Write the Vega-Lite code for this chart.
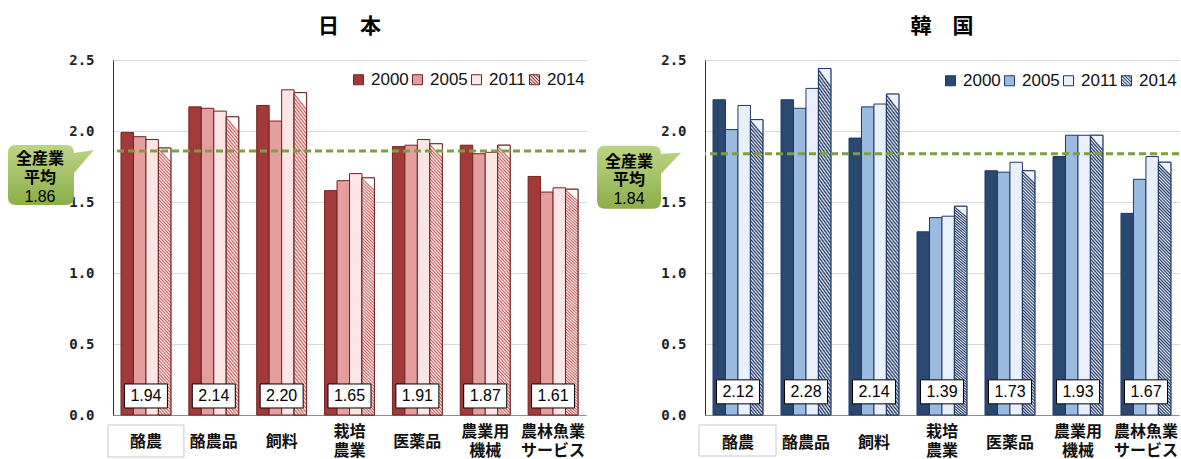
{
  "$schema": "https://vega.github.io/schema/vega-lite/v6.json",
  "background": "white",
  "padding": {"left": 7, "top": 16, "right": 2, "bottom": 0},
  "spacing": 9,
  "align": "none",
  "datasets": {
    "bars": [
      {"country": "日本", "category": "酪農", "year": "2000", "value": 1.99},
      {"country": "日本", "category": "酪農", "year": "2005", "value": 1.96},
      {"country": "日本", "category": "酪農", "year": "2011", "value": 1.94},
      {"country": "日本", "category": "酪農", "year": "2014", "value": 1.88},
      {"country": "日本", "category": "酪農品", "year": "2000", "value": 2.17},
      {"country": "日本", "category": "酪農品", "year": "2005", "value": 2.16},
      {"country": "日本", "category": "酪農品", "year": "2011", "value": 2.14},
      {"country": "日本", "category": "酪農品", "year": "2014", "value": 2.10},
      {"country": "日本", "category": "飼料", "year": "2000", "value": 2.18},
      {"country": "日本", "category": "飼料", "year": "2005", "value": 2.07},
      {"country": "日本", "category": "飼料", "year": "2011", "value": 2.29},
      {"country": "日本", "category": "飼料", "year": "2014", "value": 2.27},
      {"country": "日本", "category": "栽培\n農業", "year": "2000", "value": 1.58},
      {"country": "日本", "category": "栽培\n農業", "year": "2005", "value": 1.65},
      {"country": "日本", "category": "栽培\n農業", "year": "2011", "value": 1.70},
      {"country": "日本", "category": "栽培\n農業", "year": "2014", "value": 1.67},
      {"country": "日本", "category": "医薬品", "year": "2000", "value": 1.89},
      {"country": "日本", "category": "医薬品", "year": "2005", "value": 1.90},
      {"country": "日本", "category": "医薬品", "year": "2011", "value": 1.94},
      {"country": "日本", "category": "医薬品", "year": "2014", "value": 1.91},
      {"country": "日本", "category": "農業用\n機械", "year": "2000", "value": 1.90},
      {"country": "日本", "category": "農業用\n機械", "year": "2005", "value": 1.84},
      {"country": "日本", "category": "農業用\n機械", "year": "2011", "value": 1.85},
      {"country": "日本", "category": "農業用\n機械", "year": "2014", "value": 1.90},
      {"country": "日本", "category": "農林魚業\nサービス", "year": "2000", "value": 1.68},
      {"country": "日本", "category": "農林魚業\nサービス", "year": "2005", "value": 1.57},
      {"country": "日本", "category": "農林魚業\nサービス", "year": "2011", "value": 1.60},
      {"country": "日本", "category": "農林魚業\nサービス", "year": "2014", "value": 1.59},
      {"country": "韓国", "category": "酪農", "year": "2000", "value": 2.22},
      {"country": "韓国", "category": "酪農", "year": "2005", "value": 2.01},
      {"country": "韓国", "category": "酪農", "year": "2011", "value": 2.18},
      {"country": "韓国", "category": "酪農", "year": "2014", "value": 2.08},
      {"country": "韓国", "category": "酪農品", "year": "2000", "value": 2.22},
      {"country": "韓国", "category": "酪農品", "year": "2005", "value": 2.16},
      {"country": "韓国", "category": "酪農品", "year": "2011", "value": 2.30},
      {"country": "韓国", "category": "酪農品", "year": "2014", "value": 2.44},
      {"country": "韓国", "category": "飼料", "year": "2000", "value": 1.95},
      {"country": "韓国", "category": "飼料", "year": "2005", "value": 2.17},
      {"country": "韓国", "category": "飼料", "year": "2011", "value": 2.19},
      {"country": "韓国", "category": "飼料", "year": "2014", "value": 2.26},
      {"country": "韓国", "category": "栽培\n農業", "year": "2000", "value": 1.29},
      {"country": "韓国", "category": "栽培\n農業", "year": "2005", "value": 1.39},
      {"country": "韓国", "category": "栽培\n農業", "year": "2011", "value": 1.40},
      {"country": "韓国", "category": "栽培\n農業", "year": "2014", "value": 1.47},
      {"country": "韓国", "category": "医薬品", "year": "2000", "value": 1.72},
      {"country": "韓国", "category": "医薬品", "year": "2005", "value": 1.71},
      {"country": "韓国", "category": "医薬品", "year": "2011", "value": 1.78},
      {"country": "韓国", "category": "医薬品", "year": "2014", "value": 1.72},
      {"country": "韓国", "category": "農業用\n機械", "year": "2000", "value": 1.82},
      {"country": "韓国", "category": "農業用\n機械", "year": "2005", "value": 1.97},
      {"country": "韓国", "category": "農業用\n機械", "year": "2011", "value": 1.97},
      {"country": "韓国", "category": "農業用\n機械", "year": "2014", "value": 1.97},
      {"country": "韓国", "category": "農林魚業\nサービス", "year": "2000", "value": 1.42},
      {"country": "韓国", "category": "農林魚業\nサービス", "year": "2005", "value": 1.66},
      {"country": "韓国", "category": "農林魚業\nサービス", "year": "2011", "value": 1.82},
      {"country": "韓国", "category": "農林魚業\nサービス", "year": "2014", "value": 1.78}
    ],
    "labels": [
      {"country": "日本", "category": "酪農", "avg": 1.94},
      {"country": "日本", "category": "酪農品", "avg": 2.14},
      {"country": "日本", "category": "飼料", "avg": 2.20},
      {"country": "日本", "category": "栽培\n農業", "avg": 1.65},
      {"country": "日本", "category": "医薬品", "avg": 1.91},
      {"country": "日本", "category": "農業用\n機械", "avg": 1.87},
      {"country": "日本", "category": "農林魚業\nサービス", "avg": 1.61},
      {"country": "韓国", "category": "酪農", "avg": 2.12},
      {"country": "韓国", "category": "酪農品", "avg": 2.28},
      {"country": "韓国", "category": "飼料", "avg": 2.14},
      {"country": "韓国", "category": "栽培\n農業", "avg": 1.39},
      {"country": "韓国", "category": "医薬品", "avg": 1.73},
      {"country": "韓国", "category": "農業用\n機械", "avg": 1.93},
      {"country": "韓国", "category": "農林魚業\nサービス", "avg": 1.67}
    ],
    "average": [
      {"country": "日本", "avg": 1.86},
      {"country": "韓国", "avg": 1.84}
    ]
  },
  "hconcat": [
    {
      "width": 473,
      "height": 355,
      "title": {"text": "日　本", "font": "Noto Sans CJK JP", "fontSize": 21, "fontWeight": "bold", "color": "#000", "offset": 16, "anchor": "middle"},
      "layer": [
        {
          "data": {"name": "bars"},
          "transform": [{"filter": "datum.country === '日本'"}],
          "mark": {"type": "bar", "stroke": "#6e2424", "strokeWidth": 1},
          "encoding": {
            "x": {"field": "category", "type": "nominal",
              "scale": {"domain": ["酪農", "酪農品", "飼料", "栽培\n農業", "医薬品", "農業用\n機械", "農林魚業\nサービス"], "paddingInner": 0.265, "paddingOuter": 0.118},
              "axis": {"title": null, "ticks": false, "domainColor": "#8c8c8c", "labelAngle": 0, "labelFont": "Noto Sans CJK JP", "labelFontSize": 16, "labelFontWeight": "bold", "labelColor": "#111", "labelLineHeight": 19, "labelBaseline": "middle", "labelOverlap": false, "labelExpr": "split(datum.label, '\\n')",
                "labelPadding": {"condition": {"test": "indexof(datum.label, '\\n') >= 0", "value": 16}, "value": 26}}},
            "xOffset": {"field": "year", "type": "nominal", "scale": {"domain": ["2000", "2005", "2011", "2014"], "paddingInner": 0}},
            "y": {"field": "value", "type": "quantitative",
              "scale": {"domain": [0, 2.5], "nice": false},
              "axis": {"title": null, "values": [0, 0.5, 1, 1.5, 2, 2.5], "format": ".1f", "grid": true, "gridColor": "#d9d9d9", "ticks": false, "domainColor": "#333", "labelFont": "DejaVu Sans Mono", "labelFontSize": 14, "labelFontWeight": "bold", "labelColor": "#222", "labelPadding": 19}},
            "color": {"field": "year", "type": "nominal",
              "scale": {"domain": ["2000", "2005", "2011", "2014"], "range": ["#a33a3a", "#e59e9e", "#fde5e5", "#f3cccc"]},
              "legend": {"orient": "none", "legendX": 237, "legendY": 11, "direction": "horizontal", "title": null, "symbolType": "square", "symbolSize": 100, "symbolStrokeColor": "#6e2424", "symbolStrokeWidth": 1, "labelFont": "Liberation Sans", "labelFontSize": 17, "labelColor": "#111", "labelOffset": 4, "columnPadding": 0,
                "encode": {"symbols": {"update": {"shape": {"signal": "datum.value === '2014' ? 'M-1,-1H1V1H-1Z M-1,-0.33L0.33,1 M-1,0.33L-0.33,1 M-1,-1L1,1 M-0.33,-1L1,0.33 M0.33,-1L1,-0.33' : 'square'"}, "stroke": {"value": "#6e2424"}, "strokeWidth": {"value": 1}}}}}}
          }
        },
        {
          "data": {"name": "bars"},
          "transform": [{"filter": "datum.country === '日本' && datum.year === '2014'"}],
          "mark": {"type": "bar", "stroke": "#6e2424", "strokeWidth": 1,
            "fill": {"gradient": "linear", "x1": 0.05, "y1": 0, "x2": 0, "y2": 1, "stops": [
              {"offset":0,"color":"#fff"},{"offset":0.00625,"color":"#c55"},{"offset":0.0125,"color":"#fff"},{"offset":0.01875,"color":"#c55"},{"offset":0.025,"color":"#fff"},{"offset":0.03125,"color":"#c55"},{"offset":0.0375,"color":"#fff"},{"offset":0.04375,"color":"#c55"},
              {"offset":0.05,"color":"#fff"},{"offset":0.05625,"color":"#c55"},{"offset":0.0625,"color":"#fff"},{"offset":0.06875,"color":"#c55"},{"offset":0.075,"color":"#fff"},{"offset":0.08125,"color":"#c55"},{"offset":0.0875,"color":"#fff"},{"offset":0.09375,"color":"#c55"},
              {"offset":0.1,"color":"#fff"},{"offset":0.10625,"color":"#c55"},{"offset":0.1125,"color":"#fff"},{"offset":0.11875,"color":"#c55"},{"offset":0.125,"color":"#fff"},{"offset":0.13125,"color":"#c55"},{"offset":0.1375,"color":"#fff"},{"offset":0.14375,"color":"#c55"},
              {"offset":0.15,"color":"#fff"},{"offset":0.15625,"color":"#c55"},{"offset":0.1625,"color":"#fff"},{"offset":0.16875,"color":"#c55"},{"offset":0.175,"color":"#fff"},{"offset":0.18125,"color":"#c55"},{"offset":0.1875,"color":"#fff"},{"offset":0.19375,"color":"#c55"},
              {"offset":0.2,"color":"#fff"},{"offset":0.20625,"color":"#c55"},{"offset":0.2125,"color":"#fff"},{"offset":0.21875,"color":"#c55"},{"offset":0.225,"color":"#fff"},{"offset":0.23125,"color":"#c55"},{"offset":0.2375,"color":"#fff"},{"offset":0.24375,"color":"#c55"},
              {"offset":0.25,"color":"#fff"},{"offset":0.25625,"color":"#c55"},{"offset":0.2625,"color":"#fff"},{"offset":0.26875,"color":"#c55"},{"offset":0.275,"color":"#fff"},{"offset":0.28125,"color":"#c55"},{"offset":0.2875,"color":"#fff"},{"offset":0.29375,"color":"#c55"},
              {"offset":0.3,"color":"#fff"},{"offset":0.30625,"color":"#c55"},{"offset":0.3125,"color":"#fff"},{"offset":0.31875,"color":"#c55"},{"offset":0.325,"color":"#fff"},{"offset":0.33125,"color":"#c55"},{"offset":0.3375,"color":"#fff"},{"offset":0.34375,"color":"#c55"},
              {"offset":0.35,"color":"#fff"},{"offset":0.35625,"color":"#c55"},{"offset":0.3625,"color":"#fff"},{"offset":0.36875,"color":"#c55"},{"offset":0.375,"color":"#fff"},{"offset":0.38125,"color":"#c55"},{"offset":0.3875,"color":"#fff"},{"offset":0.39375,"color":"#c55"},
              {"offset":0.4,"color":"#fff"},{"offset":0.40625,"color":"#c55"},{"offset":0.4125,"color":"#fff"},{"offset":0.41875,"color":"#c55"},{"offset":0.425,"color":"#fff"},{"offset":0.43125,"color":"#c55"},{"offset":0.4375,"color":"#fff"},{"offset":0.44375,"color":"#c55"},
              {"offset":0.45,"color":"#fff"},{"offset":0.45625,"color":"#c55"},{"offset":0.4625,"color":"#fff"},{"offset":0.46875,"color":"#c55"},{"offset":0.475,"color":"#fff"},{"offset":0.48125,"color":"#c55"},{"offset":0.4875,"color":"#fff"},{"offset":0.49375,"color":"#c55"},
              {"offset":0.5,"color":"#fff"},{"offset":0.50625,"color":"#c55"},{"offset":0.5125,"color":"#fff"},{"offset":0.51875,"color":"#c55"},{"offset":0.525,"color":"#fff"},{"offset":0.53125,"color":"#c55"},{"offset":0.5375,"color":"#fff"},{"offset":0.54375,"color":"#c55"},
              {"offset":0.55,"color":"#fff"},{"offset":0.55625,"color":"#c55"},{"offset":0.5625,"color":"#fff"},{"offset":0.56875,"color":"#c55"},{"offset":0.575,"color":"#fff"},{"offset":0.58125,"color":"#c55"},{"offset":0.5875,"color":"#fff"},{"offset":0.59375,"color":"#c55"},
              {"offset":0.6,"color":"#fff"},{"offset":0.60625,"color":"#c55"},{"offset":0.6125,"color":"#fff"},{"offset":0.61875,"color":"#c55"},{"offset":0.625,"color":"#fff"},{"offset":0.63125,"color":"#c55"},{"offset":0.6375,"color":"#fff"},{"offset":0.64375,"color":"#c55"},
              {"offset":0.65,"color":"#fff"},{"offset":0.65625,"color":"#c55"},{"offset":0.6625,"color":"#fff"},{"offset":0.66875,"color":"#c55"},{"offset":0.675,"color":"#fff"},{"offset":0.68125,"color":"#c55"},{"offset":0.6875,"color":"#fff"},{"offset":0.69375,"color":"#c55"},
              {"offset":0.7,"color":"#fff"},{"offset":0.70625,"color":"#c55"},{"offset":0.7125,"color":"#fff"},{"offset":0.71875,"color":"#c55"},{"offset":0.725,"color":"#fff"},{"offset":0.73125,"color":"#c55"},{"offset":0.7375,"color":"#fff"},{"offset":0.74375,"color":"#c55"},
              {"offset":0.75,"color":"#fff"},{"offset":0.75625,"color":"#c55"},{"offset":0.7625,"color":"#fff"},{"offset":0.76875,"color":"#c55"},{"offset":0.775,"color":"#fff"},{"offset":0.78125,"color":"#c55"},{"offset":0.7875,"color":"#fff"},{"offset":0.79375,"color":"#c55"},
              {"offset":0.8,"color":"#fff"},{"offset":0.80625,"color":"#c55"},{"offset":0.8125,"color":"#fff"},{"offset":0.81875,"color":"#c55"},{"offset":0.825,"color":"#fff"},{"offset":0.83125,"color":"#c55"},{"offset":0.8375,"color":"#fff"},{"offset":0.84375,"color":"#c55"},
              {"offset":0.85,"color":"#fff"},{"offset":0.85625,"color":"#c55"},{"offset":0.8625,"color":"#fff"},{"offset":0.86875,"color":"#c55"},{"offset":0.875,"color":"#fff"},{"offset":0.88125,"color":"#c55"},{"offset":0.8875,"color":"#fff"},{"offset":0.89375,"color":"#c55"},
              {"offset":0.9,"color":"#fff"},{"offset":0.90625,"color":"#c55"},{"offset":0.9125,"color":"#fff"},{"offset":0.91875,"color":"#c55"},{"offset":0.925,"color":"#fff"},{"offset":0.93125,"color":"#c55"},{"offset":0.9375,"color":"#fff"},{"offset":0.94375,"color":"#c55"},
              {"offset":0.95,"color":"#fff"},{"offset":0.95625,"color":"#c55"},{"offset":0.9625,"color":"#fff"},{"offset":0.96875,"color":"#c55"},{"offset":0.975,"color":"#fff"},{"offset":0.98125,"color":"#c55"},{"offset":0.9875,"color":"#fff"},{"offset":0.99375,"color":"#c55"},
              {"offset":1,"color":"#fff"}
            ]}},
          "encoding": {
            "x": {"field": "category", "type": "nominal"},
            "xOffset": {"field": "year", "type": "nominal"},
            "y": {"field": "value", "type": "quantitative"}
          }
        },
        {
          "data": {"name": "average"},
          "transform": [{"filter": "datum.country === '日本'"}],
          "mark": {"type": "rule", "color": "#7f9f3c", "strokeWidth": 3, "strokeDash": [7, 4]},
          "encoding": {"y": {"field": "avg", "type": "quantitative"}}
        },
        {
          "data": {"name": "labels"},
          "transform": [{"filter": "datum.country === '日本'"}],
          "mark": {"type": "point", "shape": "M-21.5,-12H21.5V12H-21.5Z", "size": 4, "filled": true, "fill": "#ffffff", "stroke": "#000000", "strokeWidth": 1, "opacity": 1},
          "encoding": {
            "x": {"field": "category", "type": "nominal"},
            "y": {"datum": 0.134, "type": "quantitative"}
          }
        },
        {
          "data": {"name": "labels"},
          "transform": [{"filter": "datum.country === '日本'"}],
          "mark": {"type": "text", "font": "Liberation Sans", "fontSize": 16, "color": "#000", "baseline": "middle", "align": "center"},
          "encoding": {
            "x": {"field": "category", "type": "nominal"},
            "y": {"datum": 0.134, "type": "quantitative"},
            "text": {"field": "avg", "type": "quantitative", "format": ".2f"}
          }
        },
        {
          "data": {"name": "average"},
          "transform": [{"filter": "datum.country === '日本'"}],
          "mark": {"type": "point", "shape": "M-130,-6H-80Q-72,-6 -72,2L-52,-1L-72,22V46Q-72,54 -80,54H-130Q-138,54 -138,46V2Q-138,-6 -130,-6Z", "size": 4, "filled": true, "opacity": 1, "strokeWidth": 0,
            "fill": {"gradient": "linear", "x1": 0, "y1": 0, "x2": 0, "y2": 1, "stops": [{"offset": 0, "color": "#bcd585"}, {"offset": 1, "color": "#8cae4a"}]}},
          "encoding": {
            "x": {"datum": "酪農", "type": "nominal"},
            "y": {"field": "avg", "type": "quantitative"}
          }
        },
        {
          "data": {"name": "average"},
          "transform": [{"filter": "datum.country === '日本'"}],
          "mark": {"type": "text", "text": "全産業", "font": "Noto Sans CJK JP", "fontSize": 16, "fontWeight": "bold", "color": "#000", "baseline": "middle", "align": "center", "dx": -106, "dy": 8},
          "encoding": {
            "x": {"datum": "酪農", "type": "nominal"},
            "y": {"field": "avg", "type": "quantitative"}
          }
        },
        {
          "data": {"name": "average"},
          "transform": [{"filter": "datum.country === '日本'"}],
          "mark": {"type": "text", "text": "平均", "font": "Noto Sans CJK JP", "fontSize": 16, "fontWeight": "bold", "color": "#000", "baseline": "middle", "align": "center", "dx": -106, "dy": 27},
          "encoding": {
            "x": {"datum": "酪農", "type": "nominal"},
            "y": {"field": "avg", "type": "quantitative"}
          }
        },
        {
          "data": {"name": "average"},
          "transform": [{"filter": "datum.country === '日本'"}],
          "mark": {"type": "text", "font": "Liberation Sans", "fontSize": 16, "color": "#000", "baseline": "middle", "align": "center", "dx": -106, "dy": 46},
          "encoding": {
            "x": {"datum": "酪農", "type": "nominal"},
            "y": {"field": "avg", "type": "quantitative"},
            "text": {"field": "avg", "type": "quantitative", "format": ".2f"}
          }
        },
        {
          "data": {"name": "average"},
          "transform": [{"filter": "datum.country === '日本'"}],
          "mark": {"type": "point", "shape": "M-38,10H38V42H-38Z", "size": 4, "filled": false, "color": "#c8c8c8", "strokeWidth": 1, "opacity": 1},
          "encoding": {
            "x": {"datum": "酪農", "type": "nominal"},
            "y": {"datum": 0, "type": "quantitative"}
          }
        }
      ]
    },
    {
      "width": 474,
      "height": 355,
      "title": {"text": "韓　国", "font": "Noto Sans CJK JP", "fontSize": 21, "fontWeight": "bold", "color": "#000", "offset": 16, "anchor": "middle"},
      "layer": [
        {
          "data": {"name": "bars"},
          "transform": [{"filter": "datum.country === '韓国'"}],
          "mark": {"type": "bar", "stroke": "#1f3864", "strokeWidth": 1},
          "encoding": {
            "x": {"field": "category", "type": "nominal",
              "scale": {"domain": ["酪農", "酪農品", "飼料", "栽培\n農業", "医薬品", "農業用\n機械", "農林魚業\nサービス"], "paddingInner": 0.265, "paddingOuter": 0.118},
              "axis": {"title": null, "ticks": false, "domainColor": "#8c8c8c", "labelAngle": 0, "labelFont": "Noto Sans CJK JP", "labelFontSize": 16, "labelFontWeight": "bold", "labelColor": "#111", "labelLineHeight": 19, "labelBaseline": "middle", "labelOverlap": false, "labelExpr": "split(datum.label, '\\n')",
                "labelPadding": {"condition": {"test": "indexof(datum.label, '\\n') >= 0", "value": 16}, "value": 27}}},
            "xOffset": {"field": "year", "type": "nominal", "scale": {"domain": ["2000", "2005", "2011", "2014"], "paddingInner": 0}},
            "y": {"field": "value", "type": "quantitative",
              "scale": {"domain": [0, 2.5], "nice": false},
              "axis": {"title": null, "values": [0, 0.5, 1, 1.5, 2, 2.5], "format": ".1f", "grid": true, "gridColor": "#d9d9d9", "ticks": false, "domainColor": "#333", "labelFont": "DejaVu Sans Mono", "labelFontSize": 14, "labelFontWeight": "bold", "labelColor": "#222", "labelPadding": 19}},
            "color": {"field": "year", "type": "nominal",
              "scale": {"domain": ["2000", "2005", "2011", "2014"], "range": ["#2a4870", "#9bbae0", "#eaf0fa", "#c5d0e4"]},
              "legend": {"orient": "none", "legendX": 237, "legendY": 12, "direction": "horizontal", "title": null, "symbolType": "square", "symbolSize": 100, "symbolStrokeColor": "#1f3864", "symbolStrokeWidth": 1, "labelFont": "Liberation Sans", "labelFontSize": 17, "labelColor": "#111", "labelOffset": 4, "columnPadding": 0,
                "encode": {"symbols": {"update": {"shape": {"signal": "datum.value === '2014' ? 'M-1,-1H1V1H-1Z M-1,-0.33L0.33,1 M-1,0.33L-0.33,1 M-1,-1L1,1 M-0.33,-1L1,0.33 M0.33,-1L1,-0.33' : 'square'"}, "stroke": {"value": "#1f3864"}, "strokeWidth": {"value": 1}}}}}}
          }
        },
        {
          "data": {"name": "bars"},
          "transform": [{"filter": "datum.country === '韓国' && datum.year === '2014'"}],
          "mark": {"type": "bar", "stroke": "#1f3864", "strokeWidth": 1,
            "fill": {"gradient": "linear", "x1": 0.05, "y1": 0, "x2": 0, "y2": 1, "stops": [
              {"offset":0,"color":"#eef2f9"},{"offset":0.00625,"color":"#1a3060"},{"offset":0.0125,"color":"#eef2f9"},{"offset":0.01875,"color":"#1a3060"},{"offset":0.025,"color":"#eef2f9"},{"offset":0.03125,"color":"#1a3060"},{"offset":0.0375,"color":"#eef2f9"},{"offset":0.04375,"color":"#1a3060"},
              {"offset":0.05,"color":"#eef2f9"},{"offset":0.05625,"color":"#1a3060"},{"offset":0.0625,"color":"#eef2f9"},{"offset":0.06875,"color":"#1a3060"},{"offset":0.075,"color":"#eef2f9"},{"offset":0.08125,"color":"#1a3060"},{"offset":0.0875,"color":"#eef2f9"},{"offset":0.09375,"color":"#1a3060"},
              {"offset":0.1,"color":"#eef2f9"},{"offset":0.10625,"color":"#1a3060"},{"offset":0.1125,"color":"#eef2f9"},{"offset":0.11875,"color":"#1a3060"},{"offset":0.125,"color":"#eef2f9"},{"offset":0.13125,"color":"#1a3060"},{"offset":0.1375,"color":"#eef2f9"},{"offset":0.14375,"color":"#1a3060"},
              {"offset":0.15,"color":"#eef2f9"},{"offset":0.15625,"color":"#1a3060"},{"offset":0.1625,"color":"#eef2f9"},{"offset":0.16875,"color":"#1a3060"},{"offset":0.175,"color":"#eef2f9"},{"offset":0.18125,"color":"#1a3060"},{"offset":0.1875,"color":"#eef2f9"},{"offset":0.19375,"color":"#1a3060"},
              {"offset":0.2,"color":"#eef2f9"},{"offset":0.20625,"color":"#1a3060"},{"offset":0.2125,"color":"#eef2f9"},{"offset":0.21875,"color":"#1a3060"},{"offset":0.225,"color":"#eef2f9"},{"offset":0.23125,"color":"#1a3060"},{"offset":0.2375,"color":"#eef2f9"},{"offset":0.24375,"color":"#1a3060"},
              {"offset":0.25,"color":"#eef2f9"},{"offset":0.25625,"color":"#1a3060"},{"offset":0.2625,"color":"#eef2f9"},{"offset":0.26875,"color":"#1a3060"},{"offset":0.275,"color":"#eef2f9"},{"offset":0.28125,"color":"#1a3060"},{"offset":0.2875,"color":"#eef2f9"},{"offset":0.29375,"color":"#1a3060"},
              {"offset":0.3,"color":"#eef2f9"},{"offset":0.30625,"color":"#1a3060"},{"offset":0.3125,"color":"#eef2f9"},{"offset":0.31875,"color":"#1a3060"},{"offset":0.325,"color":"#eef2f9"},{"offset":0.33125,"color":"#1a3060"},{"offset":0.3375,"color":"#eef2f9"},{"offset":0.34375,"color":"#1a3060"},
              {"offset":0.35,"color":"#eef2f9"},{"offset":0.35625,"color":"#1a3060"},{"offset":0.3625,"color":"#eef2f9"},{"offset":0.36875,"color":"#1a3060"},{"offset":0.375,"color":"#eef2f9"},{"offset":0.38125,"color":"#1a3060"},{"offset":0.3875,"color":"#eef2f9"},{"offset":0.39375,"color":"#1a3060"},
              {"offset":0.4,"color":"#eef2f9"},{"offset":0.40625,"color":"#1a3060"},{"offset":0.4125,"color":"#eef2f9"},{"offset":0.41875,"color":"#1a3060"},{"offset":0.425,"color":"#eef2f9"},{"offset":0.43125,"color":"#1a3060"},{"offset":0.4375,"color":"#eef2f9"},{"offset":0.44375,"color":"#1a3060"},
              {"offset":0.45,"color":"#eef2f9"},{"offset":0.45625,"color":"#1a3060"},{"offset":0.4625,"color":"#eef2f9"},{"offset":0.46875,"color":"#1a3060"},{"offset":0.475,"color":"#eef2f9"},{"offset":0.48125,"color":"#1a3060"},{"offset":0.4875,"color":"#eef2f9"},{"offset":0.49375,"color":"#1a3060"},
              {"offset":0.5,"color":"#eef2f9"},{"offset":0.50625,"color":"#1a3060"},{"offset":0.5125,"color":"#eef2f9"},{"offset":0.51875,"color":"#1a3060"},{"offset":0.525,"color":"#eef2f9"},{"offset":0.53125,"color":"#1a3060"},{"offset":0.5375,"color":"#eef2f9"},{"offset":0.54375,"color":"#1a3060"},
              {"offset":0.55,"color":"#eef2f9"},{"offset":0.55625,"color":"#1a3060"},{"offset":0.5625,"color":"#eef2f9"},{"offset":0.56875,"color":"#1a3060"},{"offset":0.575,"color":"#eef2f9"},{"offset":0.58125,"color":"#1a3060"},{"offset":0.5875,"color":"#eef2f9"},{"offset":0.59375,"color":"#1a3060"},
              {"offset":0.6,"color":"#eef2f9"},{"offset":0.60625,"color":"#1a3060"},{"offset":0.6125,"color":"#eef2f9"},{"offset":0.61875,"color":"#1a3060"},{"offset":0.625,"color":"#eef2f9"},{"offset":0.63125,"color":"#1a3060"},{"offset":0.6375,"color":"#eef2f9"},{"offset":0.64375,"color":"#1a3060"},
              {"offset":0.65,"color":"#eef2f9"},{"offset":0.65625,"color":"#1a3060"},{"offset":0.6625,"color":"#eef2f9"},{"offset":0.66875,"color":"#1a3060"},{"offset":0.675,"color":"#eef2f9"},{"offset":0.68125,"color":"#1a3060"},{"offset":0.6875,"color":"#eef2f9"},{"offset":0.69375,"color":"#1a3060"},
              {"offset":0.7,"color":"#eef2f9"},{"offset":0.70625,"color":"#1a3060"},{"offset":0.7125,"color":"#eef2f9"},{"offset":0.71875,"color":"#1a3060"},{"offset":0.725,"color":"#eef2f9"},{"offset":0.73125,"color":"#1a3060"},{"offset":0.7375,"color":"#eef2f9"},{"offset":0.74375,"color":"#1a3060"},
              {"offset":0.75,"color":"#eef2f9"},{"offset":0.75625,"color":"#1a3060"},{"offset":0.7625,"color":"#eef2f9"},{"offset":0.76875,"color":"#1a3060"},{"offset":0.775,"color":"#eef2f9"},{"offset":0.78125,"color":"#1a3060"},{"offset":0.7875,"color":"#eef2f9"},{"offset":0.79375,"color":"#1a3060"},
              {"offset":0.8,"color":"#eef2f9"},{"offset":0.80625,"color":"#1a3060"},{"offset":0.8125,"color":"#eef2f9"},{"offset":0.81875,"color":"#1a3060"},{"offset":0.825,"color":"#eef2f9"},{"offset":0.83125,"color":"#1a3060"},{"offset":0.8375,"color":"#eef2f9"},{"offset":0.84375,"color":"#1a3060"},
              {"offset":0.85,"color":"#eef2f9"},{"offset":0.85625,"color":"#1a3060"},{"offset":0.8625,"color":"#eef2f9"},{"offset":0.86875,"color":"#1a3060"},{"offset":0.875,"color":"#eef2f9"},{"offset":0.88125,"color":"#1a3060"},{"offset":0.8875,"color":"#eef2f9"},{"offset":0.89375,"color":"#1a3060"},
              {"offset":0.9,"color":"#eef2f9"},{"offset":0.90625,"color":"#1a3060"},{"offset":0.9125,"color":"#eef2f9"},{"offset":0.91875,"color":"#1a3060"},{"offset":0.925,"color":"#eef2f9"},{"offset":0.93125,"color":"#1a3060"},{"offset":0.9375,"color":"#eef2f9"},{"offset":0.94375,"color":"#1a3060"},
              {"offset":0.95,"color":"#eef2f9"},{"offset":0.95625,"color":"#1a3060"},{"offset":0.9625,"color":"#eef2f9"},{"offset":0.96875,"color":"#1a3060"},{"offset":0.975,"color":"#eef2f9"},{"offset":0.98125,"color":"#1a3060"},{"offset":0.9875,"color":"#eef2f9"},{"offset":0.99375,"color":"#1a3060"},
              {"offset":1,"color":"#eef2f9"}
            ]}},
          "encoding": {
            "x": {"field": "category", "type": "nominal"},
            "xOffset": {"field": "year", "type": "nominal"},
            "y": {"field": "value", "type": "quantitative"}
          }
        },
        {
          "data": {"name": "average"},
          "transform": [{"filter": "datum.country === '韓国'"}],
          "mark": {"type": "rule", "color": "#7f9f3c", "strokeWidth": 3, "strokeDash": [7, 4]},
          "encoding": {"y": {"field": "avg", "type": "quantitative"}}
        },
        {
          "data": {"name": "labels"},
          "transform": [{"filter": "datum.country === '韓国'"}],
          "mark": {"type": "point", "shape": "M-21.5,-12H21.5V12H-21.5Z", "size": 4, "filled": true, "fill": "#ffffff", "stroke": "#000000", "strokeWidth": 1, "opacity": 1},
          "encoding": {
            "x": {"field": "category", "type": "nominal"},
            "y": {"datum": 0.163, "type": "quantitative"}
          }
        },
        {
          "data": {"name": "labels"},
          "transform": [{"filter": "datum.country === '韓国'"}],
          "mark": {"type": "text", "font": "Liberation Sans", "fontSize": 16, "color": "#000", "baseline": "middle", "align": "center"},
          "encoding": {
            "x": {"field": "category", "type": "nominal"},
            "y": {"datum": 0.163, "type": "quantitative"},
            "text": {"field": "avg", "type": "quantitative", "format": ".2f"}
          }
        },
        {
          "data": {"name": "average"},
          "transform": [{"filter": "datum.country === '韓国'"}],
          "mark": {"type": "point", "shape": "M-133,-8H-85Q-77,-8 -77,0L-57,-1L-77,20V47Q-77,55 -85,55H-133Q-141,55 -141,47V0Q-141,-8 -133,-8Z", "size": 4, "filled": true, "opacity": 1, "strokeWidth": 0,
            "fill": {"gradient": "linear", "x1": 0, "y1": 0, "x2": 0, "y2": 1, "stops": [{"offset": 0, "color": "#bcd585"}, {"offset": 1, "color": "#8cae4a"}]}},
          "encoding": {
            "x": {"datum": "酪農", "type": "nominal"},
            "y": {"field": "avg", "type": "quantitative"}
          }
        },
        {
          "data": {"name": "average"},
          "transform": [{"filter": "datum.country === '韓国'"}],
          "mark": {"type": "text", "text": "全産業", "font": "Noto Sans CJK JP", "fontSize": 16, "fontWeight": "bold", "color": "#000", "baseline": "middle", "align": "center", "dx": -109, "dy": 8},
          "encoding": {
            "x": {"datum": "酪農", "type": "nominal"},
            "y": {"field": "avg", "type": "quantitative"}
          }
        },
        {
          "data": {"name": "average"},
          "transform": [{"filter": "datum.country === '韓国'"}],
          "mark": {"type": "text", "text": "平均", "font": "Noto Sans CJK JP", "fontSize": 16, "fontWeight": "bold", "color": "#000", "baseline": "middle", "align": "center", "dx": -109, "dy": 26},
          "encoding": {
            "x": {"datum": "酪農", "type": "nominal"},
            "y": {"field": "avg", "type": "quantitative"}
          }
        },
        {
          "data": {"name": "average"},
          "transform": [{"filter": "datum.country === '韓国'"}],
          "mark": {"type": "text", "font": "Liberation Sans", "fontSize": 16, "color": "#000", "baseline": "middle", "align": "center", "dx": -109, "dy": 45},
          "encoding": {
            "x": {"datum": "酪農", "type": "nominal"},
            "y": {"field": "avg", "type": "quantitative"},
            "text": {"field": "avg", "type": "quantitative", "format": ".2f"}
          }
        },
        {
          "data": {"name": "average"},
          "transform": [{"filter": "datum.country === '韓国'"}],
          "mark": {"type": "point", "shape": "M-39,10H38V41H-39Z", "size": 4, "filled": false, "color": "#c8c8c8", "strokeWidth": 1, "opacity": 1},
          "encoding": {
            "x": {"datum": "酪農", "type": "nominal"},
            "y": {"datum": 0, "type": "quantitative"}
          }
        }
      ]
    }
  ],
  "resolve": {"scale": {"color": "independent", "x": "independent", "y": "independent"}},
  "config": {
    "view": {"stroke": null},
    "font": "Noto Sans CJK JP"
  }
}
